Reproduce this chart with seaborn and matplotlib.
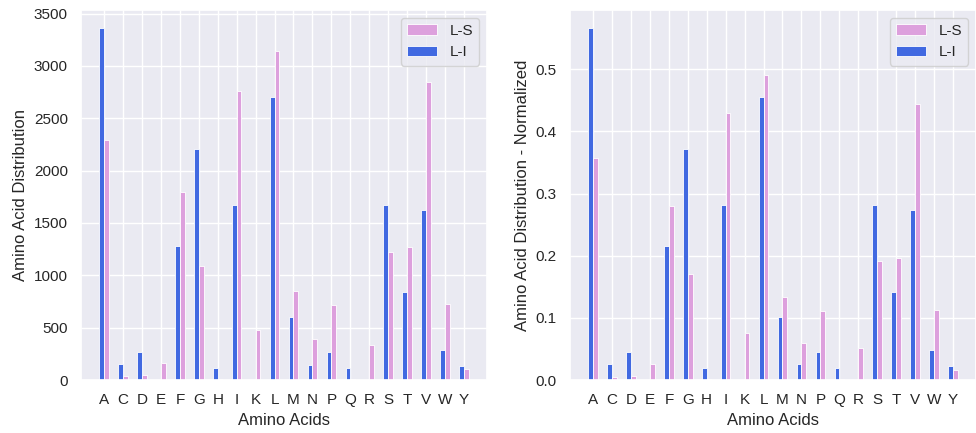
import matplotlib
matplotlib.use("Agg")
import matplotlib.pyplot as plt
import numpy as np
import pandas as pd
import seaborn as sns

amino_acids = ["A", "C", "D", "E", "F", "G", "H", "I", "K", "L",
               "M", "N", "P", "Q", "R", "S", "T", "V", "W", "Y"]

# raw residue counts
counts_li = [3366, 150, 269, 0, 1276, 2203, 118, 1672, 0, 2701,
             601, 147, 269, 118, 0, 1675, 841, 1621, 288, 137]
counts_ls = [2295, 35, 50, 163, 1793, 1093, 6, 2759, 480, 3146,
             850, 390, 713, 5, 332, 1221, 1269, 2849, 723, 102]

# normalized distribution
norm_li = [0.567, 0.025, 0.045, 0.0, 0.215, 0.371, 0.020, 0.282, 0.0, 0.455,
           0.101, 0.025, 0.045, 0.020, 0.0, 0.282, 0.142, 0.273, 0.048, 0.023]
norm_ls = [0.357, 0.005, 0.007, 0.025, 0.280, 0.170, 0.001, 0.429, 0.075, 0.490,
           0.133, 0.059, 0.111, 0.001, 0.051, 0.191, 0.197, 0.444, 0.112, 0.016]

groups = ["L-I", "L-S"]
palette = {"L-I": "royalblue", "L-S": "plum"}


def long_frame(li, ls):
    return pd.DataFrame({
        "Amino Acids": amino_acids * 2,
        "value": list(li) + list(ls),
        "group": ["L-I"] * len(li) + ["L-S"] * len(ls),
    })


sns.set_theme(style="darkgrid")
plt.rcParams["font.family"] = ["Liberation Sans", "DejaVu Sans"]

fig = plt.figure(figsize=(9.76, 4.33), dpi=100)
ax1 = fig.add_axes([0.083, 0.1224, 0.416, 0.8545])
ax2 = fig.add_axes([0.584, 0.1224, 0.416, 0.8545])

panels = [
    (ax1, long_frame(counts_li, counts_ls), "Amino Acid Distribution"),
    (ax2, long_frame(norm_li, norm_ls), "Amino Acid Distribution - Normalized"),
]

n = len(amino_acids)
for ax, df, ylabel in panels:
    sns.barplot(data=df, x="Amino Acids", y="value", hue="group",
                hue_order=groups, palette=palette, width=0.5,
                saturation=1, errorbar=None, edgecolor="white",
                linewidth=0.6, ax=ax)
    ax.set_xlim(-1.225, n - 1 + 1.225)
    ax.margins(y=0.05)
    ax.grid(True, axis="x")
    ax.set_axisbelow(True)
    ax.set_ylabel(ylabel, fontsize=12)
    ax.set_xlabel("Amino Acids", fontsize=12)
    ax.tick_params(axis="both", labelsize=11)
    handles, labels = ax.get_legend_handles_labels()
    ax.legend(handles[::-1], labels[::-1], loc="upper right", fontsize=11)

fig.savefig("out.png", dpi=100)
